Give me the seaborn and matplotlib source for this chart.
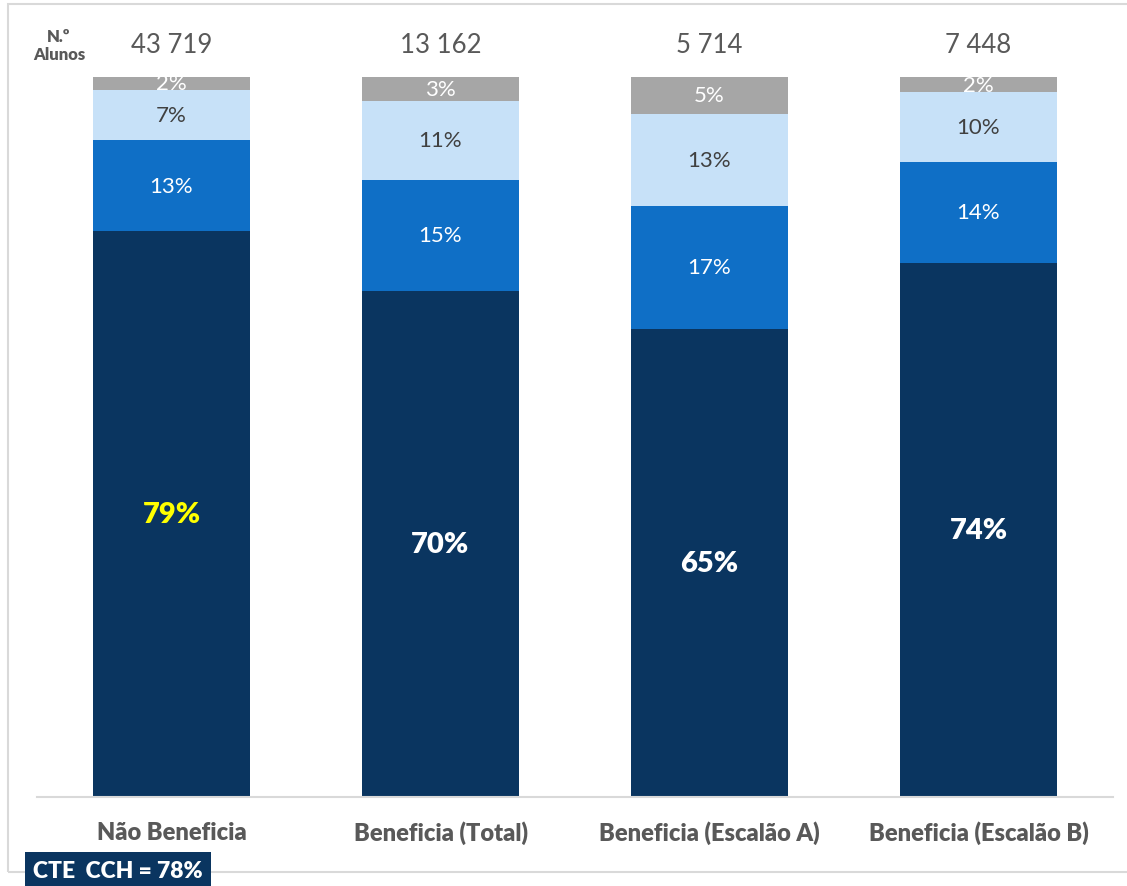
import numpy as np
import pandas as pd
import matplotlib
matplotlib.use('Agg')
from matplotlib import pyplot as plt
from matplotlib.patches import Rectangle
import seaborn as sns

# dados
categorias = ['Não Beneficia', 'Beneficia (Total)', 'Beneficia (Escalão A)', 'Beneficia (Escalão B)']
n_alunos = ['43 719', '13 162', '5 714', '7 448']
seg_escuro = [78.6, 70.3, 65.0, 74.2]
seg_azul = [12.6, 15.4, 17.1, 14.0]
seg_claro = [7.0, 11.0, 12.8, 9.7]
seg_cinza = [1.8, 3.3, 5.1, 2.1]

cores = ['#0A3560', '#0F6FC6', '#C7E1F8', '#A6A6A6']
cor_txt = ['white', 'white', '#404040', 'white']

sns.set_style('white')
plt.rcParams['font.family'] = ['Lato', 'DejaVu Sans']

fig = plt.figure(figsize=(11.27, 8.87), dpi=100)
ax = fig.add_axes([37 / 1127, 89 / 887, 1076 / 1127, 720 / 887])

# moldura
fig.patches.append(Rectangle((8 / 1127, 14 / 887), 1.0, 868 / 887, transform=fig.transFigure,
                             fill=False, edgecolor='#D9D9D9', linewidth=1.5))

camadas = [seg_escuro, seg_azul, seg_claro, seg_cinza]
acum = np.cumsum(np.array(camadas), axis=0)
df = pd.DataFrame({'cat': categorias})

# desenhar do topo para baixo (acumulado)
for i in range(3, -1, -1):
    df['v'] = acum[i]
    sns.barplot(data=df, x='cat', y='v', color=cores[i], width=157 / 269, saturation=1,
                ax=ax, linewidth=0)

# rótulos
for j in range(4):
    base = 0
    for i in range(4):
        v = camadas[i][j]
        txt = f'{round(v):.0f}%'
        if i == 0:
            ax.text(j, base + v / 2, txt, ha='center', va='center', fontsize=21, fontweight='heavy',
                    color='#FFFF00' if j == 0 else 'white')
        else:
            ax.text(j, base + v / 2, txt, ha='center', va='center', fontsize=16, color=cor_txt[i])
        base += v
    ax.text(j, 104.5, n_alunos[j], ha='center', va='center', fontsize=18.5, color='#595959')

ax.text(-0.5 + 22 / 269, 104.5, 'N.º\nAlunos', ha='center', va='center', fontsize=12,
        fontweight='heavy', color='#595959', linespacing=1.15)

ax.set_xlim(-0.5, 3.5)
ax.set_ylim(0, 100)
ax.set_xlabel('')
ax.set_ylabel('')
ax.set_yticks([])
ax.tick_params(axis='x', length=0, pad=17)
for lbl in ax.get_xticklabels():
    lbl.set_fontweight('heavy')
    lbl.set_fontsize(17)
    lbl.set_color('#595959')
for s in ['top', 'right', 'left']:
    ax.spines[s].set_visible(False)
ax.spines['bottom'].set_color('#D9D9D9')
ax.spines['bottom'].set_linewidth(1.5)

fig.text(33 / 1127, 1 - 872 / 887, 'CTE  CCH = 78%', ha='left', va='center', fontsize=16.5,
         fontweight='heavy', color='white',
         bbox=dict(boxstyle='square,pad=0.35', facecolor='#0A3560', edgecolor='none'))

fig.savefig('out.png', dpi=100)
